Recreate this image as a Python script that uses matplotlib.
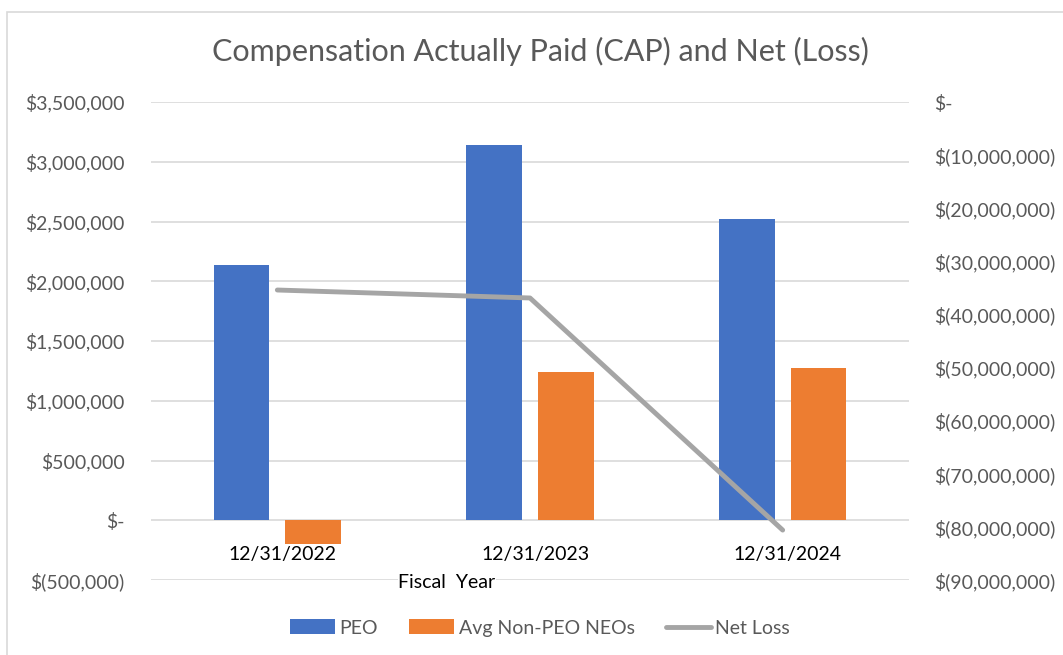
import numpy as np
import matplotlib.pyplot as plt
from matplotlib.patches import Rectangle
from matplotlib.ticker import FuncFormatter, MultipleLocator

plt.rcParams['font.family'] = ['Lato', 'DejaVu Sans']

# data
years = ['12/31/2022', '12/31/2023', '12/31/2024']
peo = [2134000, 3138000, 2519000]
non_peo = [-200000, 1238000, 1272000]
net_loss = [-35400000, -36900000, -80600000]

blue = '#4472C4'
orange = '#ED7D31'
grey_line = '#A5A5A5'
txt = '#595959'


def money_fmt(v, pos):
    if abs(v) < 1:
        return '$-'
    if v < 0:
        return '$(%s)' % format(int(round(-v)), ',')
    return '$%s' % format(int(round(v)), ',')


fig = plt.figure(figsize=(10.63, 6.55), dpi=100)
ax = fig.add_axes([151 / 1063, 1 - 580 / 655, (909 - 151) / 1063, (580 - 102) / 655])

x = np.arange(len(years))
w = 0.221
ax.bar(x - 0.142, peo, w, color=blue, label='PEO', zorder=2)
ax.bar(x + 0.142, non_peo, w, color=orange, label='Avg Non-PEO NEOs', zorder=2)

ax.set_xlim(-0.5, len(years) - 0.5)
ax.set_ylim(-500000, 3500000)
ax.yaxis.set_major_locator(MultipleLocator(500000))
ax.yaxis.set_major_formatter(FuncFormatter(money_fmt))
ax.grid(axis='y', color='#D9D9D9', linewidth=1.2, zorder=0)
ax.set_axisbelow(True)
for s in ax.spines.values():
    s.set_visible(False)
ax.tick_params(axis='y', length=0, pad=19, labelsize=14, labelcolor=txt)
ax.set_xticks([])

# category labels sit just under the zero line
for xi, lab in zip(x, years):
    ax.annotate(lab, xy=(xi + 0.02, 0), xytext=(0, -25), textcoords='offset points',
                ha='center', va='center', fontsize=14, color='black')

ax2 = ax.twinx()
ax2.plot(x, net_loss, color=grey_line, linewidth=3.5, label='Net Loss',
         solid_capstyle='round', zorder=3)
ax2.set_ylim(-90000000, 0)
ax2.yaxis.set_major_locator(MultipleLocator(10000000))
ax2.yaxis.set_major_formatter(FuncFormatter(money_fmt))
for s in ax2.spines.values():
    s.set_visible(False)
ax2.tick_params(axis='y', length=0, pad=18, labelsize=14, labelcolor=txt)

fig.text(447 / 1063, 1 - 583 / 655, 'Fiscal  Year', ha='center', va='center',
         fontsize=14, color='black',
         bbox=dict(facecolor='white', edgecolor='none', pad=0.5))

fig.text(540 / 1063, 1 - 51 / 655, 'Compensation Actually Paid (CAP) and Net (Loss)',
         ha='center', va='center', fontsize=22, color=txt)

h1, l1 = ax.get_legend_handles_labels()
h2, l2 = ax2.get_legend_handles_labels()
fig.legend(h1 + h2, l1 + l2, loc='center', bbox_to_anchor=(540 / 1063, 1 - 628 / 655),
           ncol=3, frameon=False, fontsize=14, labelcolor=txt,
           handlelength=2.3, handleheight=0.8, handletextpad=0.25, columnspacing=1.6)

fig.patches.append(Rectangle((7 / 1063, -0.1), 1.2, 1 - 12 / 655 + 0.1,
                             transform=fig.transFigure, fill=False,
                             edgecolor='#D9D9D9', linewidth=1.2))

fig.savefig('out.png', dpi=100)
